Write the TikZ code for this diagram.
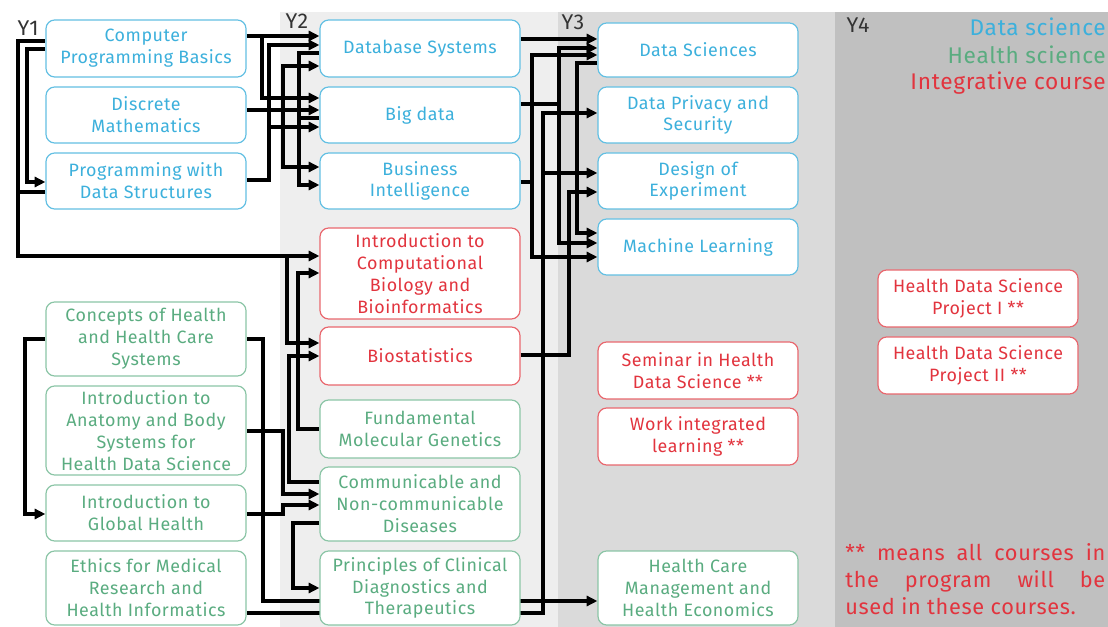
\documentclass[tikz,border=0pt]{standalone}
\usepackage{fontspec}
\setmainfont{Fira Sans}
\newfontfamily\spacedfont{Fira Sans}[LetterSpace=3]
\usetikzlibrary{arrows.meta,calc}
\definecolor{dsblue}{RGB}{60,176,220}
\definecolor{hsgreen}{RGB}{90,172,128}
\definecolor{icred}{RGB}{226,52,62}
\definecolor{bandtwo}{RGB}{238,238,238}
\definecolor{bandthree}{RGB}{218,218,218}
\definecolor{bandfour}{RGB}{192,192,192}
\pgfdeclarelayer{bands}
\pgfdeclarelayer{wires}
\pgfsetlayers{bands,wires,main}

\begin{document}
\begin{tikzpicture}[x=0.75pt,y=-0.75pt,
  course/.style={draw, fill=white, rounded corners=6.5pt, line width=0.9pt,
    minimum width=150pt, align=center, inner sep=0.5pt,
    font=\spacedfont\fontsize{13.4}{16.4}\selectfont},
  dsbox/.style={course, draw=dsblue!80, text=dsblue},
  hsbox/.style={course, draw=hsgreen!70, text=hsgreen},
  icbox/.style={course, draw=icred!75, text=icred},
  wire/.style={line width=2.6pt, black},
  conn/.style={wire, -{Triangle[length=8pt,width=7.5pt]}},
  yearlab/.style={font=\spacedfont\fontsize{16}{18}\selectfont, text=black!80, inner sep=0pt},
  legend/.style={anchor=east, inner sep=0pt, font=\spacedfont\fontsize{17}{20}\selectfont}]

\useasboundingbox (0,0) rectangle (1108,627);

% year bands
\begin{pgfonlayer}{bands}
  \fill[white] (0,0) rectangle (1108,627);
  \fill[bandtwo] (280,12) rectangle (558,627);
  \fill[bandthree] (558,12) rectangle (835,627);
  \fill[bandfour] (835,12) rectangle (1108,627);
\end{pgfonlayer}

% year labels
\node[yearlab] (yone) at (28,28) {Y1};
\node[yearlab] (ytwo) at (297,21) {Y2};
\node[yearlab] (ythree) at (573,22) {Y3};
\node[yearlab] (yfour) at (858,25) {Y4};

% legend
\node[legend, text=dsblue] (lgds) at (1106,27) {Data science};
\node[legend, text=hsgreen] (lghs) at (1106,55) {Health science};
\node[legend, text=icred] (lgic) at (1106,83) {Integrative course};

% Year 1
\node[dsbox, minimum height=42.75pt] (cpb) at (146,48.5) {Computer\\Programming Basics};
\node[dsbox, minimum height=42pt] (dm) at (146,115) {Discrete\\Mathematics};
\node[dsbox, minimum height=42pt] (pds) at (146,181) {Programming with\\Data Structures};
\node[hsbox, minimum height=55.5pt] (chs) at (146,339) {Concepts of Health\\and Health Care\\Systems};
\node[hsbox, minimum height=66.75pt] (iab) at (146,430.5) {Introduction to\\Anatomy and Body\\Systems for\\Health Data Science};
\node[hsbox, minimum height=42pt] (igh) at (146,513) {Introduction to\\Global Health};
\node[hsbox, minimum height=55.5pt] (emr) at (146,588) {Ethics for Medical\\Research and\\Health Informatics};

% Year 2
\node[dsbox, minimum height=42.75pt] (dbs) at (420,48.5) {Database Systems};
\node[dsbox, minimum height=42pt] (bd) at (420,115) {Big data};
\node[dsbox, minimum height=42pt] (bi) at (420,181) {Business\\Intelligence};
\node[icbox, minimum height=68.25pt] (icb) at (420,273.5) {Introduction to\\Computational\\Biology and\\Bioinformatics};
\node[icbox, minimum height=43.5pt] (bio) at (420,356) {Biostatistics};
\node[hsbox, minimum height=43.5pt] (fmg) at (420,429) {Fundamental\\Molecular Genetics};
\node[hsbox, minimum height=55.5pt] (cnd) at (420,504) {Communicable and\\Non-communicable\\Diseases};
\node[hsbox, minimum height=55.5pt] (pcd) at (420,588) {Principles of Clinical\\Diagnostics and\\Therapeutics};

% Year 3
\node[dsbox, minimum height=40.5pt] (ds) at (698,50) {Data Sciences};
\node[dsbox, minimum height=42pt] (dps) at (698,115) {Data Privacy and\\Security};
\node[dsbox, minimum height=42pt] (doe) at (698,181) {Design of\\Experiment};
\node[dsbox, minimum height=42pt] (ml) at (698,247) {Machine Learning};
\node[icbox, minimum height=42.75pt] (sem) at (698,370.5) {Seminar in Health\\Data Science **};
\node[icbox, minimum height=42.75pt] (wil) at (698,436.5) {Work integrated\\learning **};
\node[hsbox, minimum height=55.5pt] (hcm) at (698,588) {Health Care\\Management and\\Health Economics};

% Year 4
\node[icbox, minimum height=42.75pt] (pone) at (978,298.5) {Health Data Science\\Project I **};
\node[icbox, minimum height=42.75pt] (ptwo) at (978,365.5) {Health Data Science\\Project II **};

% footnote
\node[anchor=north west, text width=195pt, align=justify, text=icred, inner sep=0pt,
  font=\spacedfont\fontsize{16.3}{20.3}\selectfont] (note) at (845,543)
  {** means all courses in\linebreak the program will be\linebreak used in these courses.};

% prerequisite connectors
\begin{pgfonlayer}{wires}
  % within year 1
  \draw[conn] (cpb.west|-0,49) -- (27,49) |- (pds.west|-0,182);
  \draw[conn] (cpb.west|-0,41) -- (18,41) |- (icb.west|-0,256);
  \draw[conn] (287,256) |- (bio.west|-0,343);
  \draw[wire] (pds.west|-0,192) -- (18,192);
  \draw[conn] (chs.west) -- (25,339) |- (igh.west|-0,514);

  % year 1 to year 2 (data science)
  \draw[conn] (cpb.east|-0,36) -- (dbs.west|-0,36);
  \draw[conn] (262,36) |- (bd.west|-0,98);
  \draw[conn] (dm.east|-0,110) -- (bd.west|-0,110);
  \draw[conn] (283,110) |- (dbs.west|-0,66);
  \draw[conn] (283,110) |- (bi.west|-0,167);
  \draw[conn] (pds.east|-0,180) -- (269,180) |- (dbs.west|-0,45);
  \draw[conn] (269,127) -- (bd.west|-0,127);
  \draw[conn] (dbs.west|-0,53) -- (299,53) |- (bi.west|-0,185);
  \draw[wire] (bd.west|-0,118) -- (299,118);

  % year 1 to years 2 and 3 (health science)
  \draw[conn] (iab.east|-0,431) -- (283,431) |- (cnd.west|-0,494);
  \draw[conn] (igh.east|-0,514) -- (283,514) |- (cnd.west|-0,505);
  \draw[conn] (chs.east) -- (263,339) |- (hcm.west|-0,601);
  \draw[conn] (emr.east|-0,613) -| (543,113) -- (dps.west|-0,113);
  \draw[conn] (543,173) -- (doe.west|-0,173);

  % within year 2
  \draw[conn] (fmg.west) -- (298,429) |- (icb.west|-0,273);
  \draw[conn] (cnd.west|-0,482) -- (289,482) |- (bio.west|-0,356);
  \draw[conn] (cnd.west|-0,523) -- (293,523) |- (pcd.west);

  % year 2 to year 3
  \draw[conn] (dbs.east|-0,39) -- (ds.west|-0,39);
  \draw[conn] (bd.east|-0,104) -- (559,104) |- (ds.west|-0,48);
  \draw[conn] (559,104) |- (ml.west|-0,243);
  \draw[conn] (bi.east|-0,182) -- (532,182) |- (ds.west|-0,55);
  \draw[conn] (532,182) |- (ml.west|-0,257);
  \draw[conn] (ds.west|-0,63) -- (577,63) |- (ml.west|-0,233);
  \draw[conn] (bio.east|-0,355) -- (569,355) |- (doe.west|-0,192);
\end{pgfonlayer}

\end{tikzpicture}
\end{document}
